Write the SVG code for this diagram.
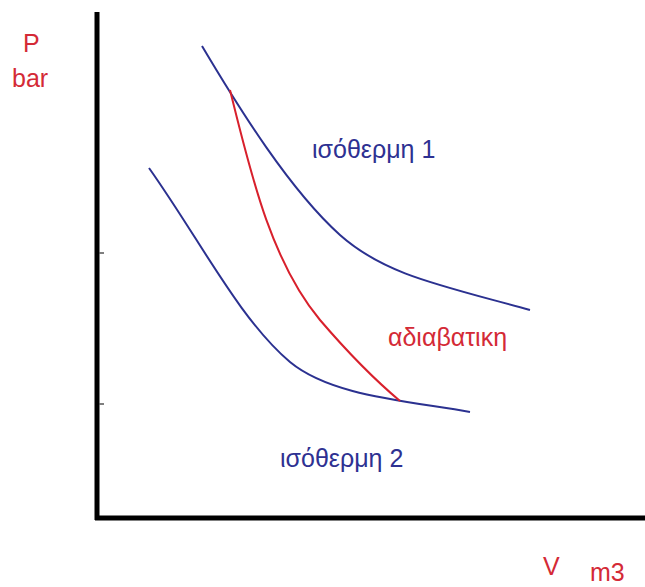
<svg xmlns="http://www.w3.org/2000/svg" width="645" height="587" viewBox="0 0 645 587">
<style>
.ax{stroke:#000;stroke-width:5;fill:none}
.tk{stroke:#555;stroke-width:1.5}
.iso{stroke:#2b3190;stroke-width:2;fill:none}
.adb{stroke:#d8202c;stroke-width:2;fill:none}
.tb{font-family:"Liberation Sans",Arial,sans-serif;font-size:25px;fill:#2e3192}
.tr{font-family:"Liberation Sans",Arial,sans-serif;font-size:25px;fill:#d42a36}
</style>
<rect width="645" height="587" fill="#fff"/>
<g id="axes">
<line class="ax" x1="97" y1="12" x2="97" y2="520"/>
<line class="ax" x1="95" y1="518" x2="645" y2="518"/>
<line class="tk" x1="99" y1="253" x2="104" y2="253"/>
<line class="tk" x1="99" y1="404" x2="104" y2="404"/>
</g>
<g id="connectors">
<path id="isotherm1" class="iso" d="M202,46 C240,110 290,190 340,235 C385,275 440,285 530,310"/>
<path id="isotherm2" class="iso" d="M149,168 C200,240 240,320 290,362 C330,395 400,400 470,412"/>
<path id="adiabatic" class="adb" d="M230,90 C250,170 270,260 320,320 C350,355 375,380 400,401"/>
</g>
<g id="labels">
<text class="tr" x="23" y="52">P</text>
<text class="tr" x="12" y="87">bar</text>
<text class="tb" x="312" y="158">ισόθερμη 1</text>
<text class="tr" x="388" y="346">αδιαβατικη</text>
<text class="tb" x="280" y="467">ισόθερμη 2</text>
<text class="tr" x="543" y="575">V</text>
<text class="tr" x="590" y="581">m3</text>
</g>
</svg>
